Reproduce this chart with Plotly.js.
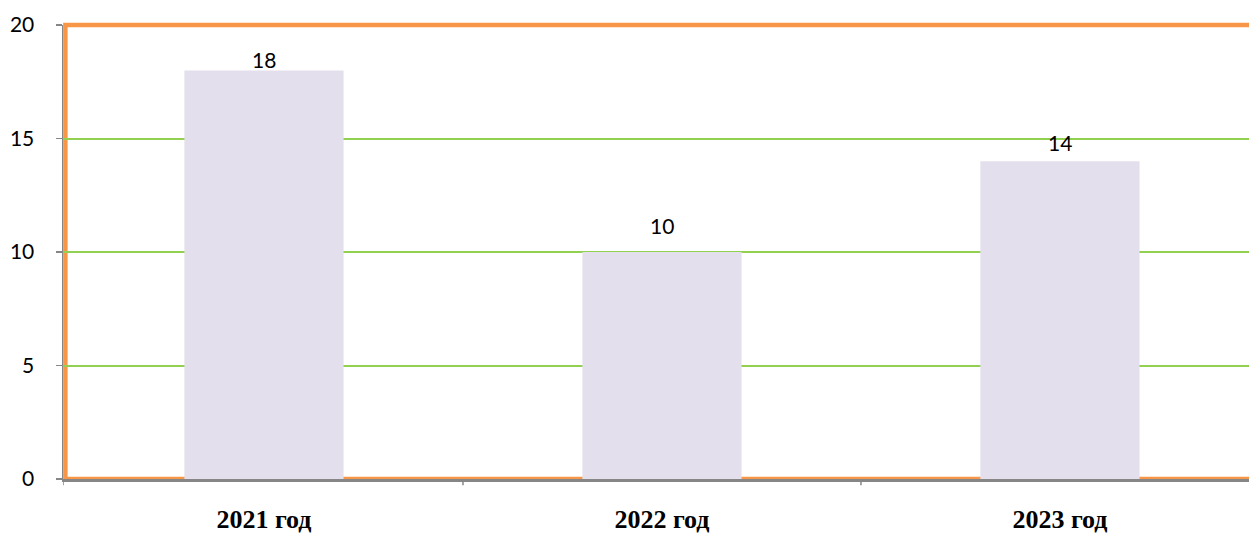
<!DOCTYPE html>
<html>
<head>
<meta charset="utf-8">
<script src="https://cdn.plot.ly/plotly-3.0.1.min.js"></script>
<style>html,body{margin:0;padding:0;background:#fff;}#chart{width:1249px;height:535px;}</style>
</head>
<body>
<div id="chart"></div>
<script>
const categories = ["2021 год", "2022 год", "2023 год"];
const values = [18, 10, 14];
const yTickValues = [0, 5, 10, 15, 20];
const labelShift = [11, 27, 19];

const orange = "#F79646";
const grey = "#868686";

const trace = {
  type: "bar",
  x: [0, 1, 2],
  y: values,
  width: 0.4,
  marker: {color: "#E4DFEC"},
  hoverinfo: "skip"
};

const annotations = values.map((v, i) => ({
  x: i, y: v, xref: "x", yref: "y",
  text: String(v), showarrow: false,
  yanchor: "middle", yshift: labelShift[i],
  font: {family: "Lato, 'Open Sans', sans-serif", size: 21, color: "#000"}
}));

const layout = {
  width: 1249, height: 535,
  margin: {l: 63, r: 0, t: 25, b: 56},
  paper_bgcolor: "#fff", plot_bgcolor: "#fff",
  showlegend: false,
  xaxis: {
    range: [-0.505, 2.475],
    tickmode: "array",
    tickvals: [0, 1, 2],
    ticktext: categories,
    showgrid: false, zeroline: false,
    showline: true, linecolor: grey, linewidth: 3,
    ticks: "",
    tickfont: {family: "'Liberation Serif', 'Times New Roman', serif", size: 26, color: "#000", weight: "bold"},
    ticklabelstandoff: 15,
    fixedrange: true
  },
  yaxis: {
    range: [0, 20],
    tickvals: yTickValues,
    showgrid: true, gridcolor: "#92D050", gridwidth: 2,
    zeroline: false,
    showline: true, linecolor: grey, linewidth: 1.5,
    ticks: "outside", ticklen: 6, tickcolor: grey, tickwidth: 1.5,
    tickfont: {family: "Lato, 'Open Sans', sans-serif", size: 21, color: "#000"},
    ticklabelstandoff: 17,
    fixedrange: true
  },
  shapes: [
    {type: "rect", xref: "paper", yref: "paper", x0: 0.002, x1: 1.05, y0: 0, y1: 1,
     line: {color: orange, width: 4.5}, fillcolor: "rgba(0,0,0,0)", layer: "below"},
    {type: "line", xref: "x", yref: "paper", x0: 0.5, x1: 0.5, y0: 0, y1: -0.014,
     line: {color: grey, width: 1.5}},
    {type: "line", xref: "x", yref: "paper", x0: 1.5, x1: 1.5, y0: 0, y1: -0.014,
     line: {color: grey, width: 1.5}},
    {type: "line", xref: "x", yref: "paper", x0: -0.505, x1: -0.505, y0: 0, y1: -0.014,
     line: {color: grey, width: 1.5}}
  ],
  annotations: annotations
};

Plotly.newPlot("chart", [trace], layout, {displayModeBar: false, staticPlot: true});
</script>
</body>
</html>
